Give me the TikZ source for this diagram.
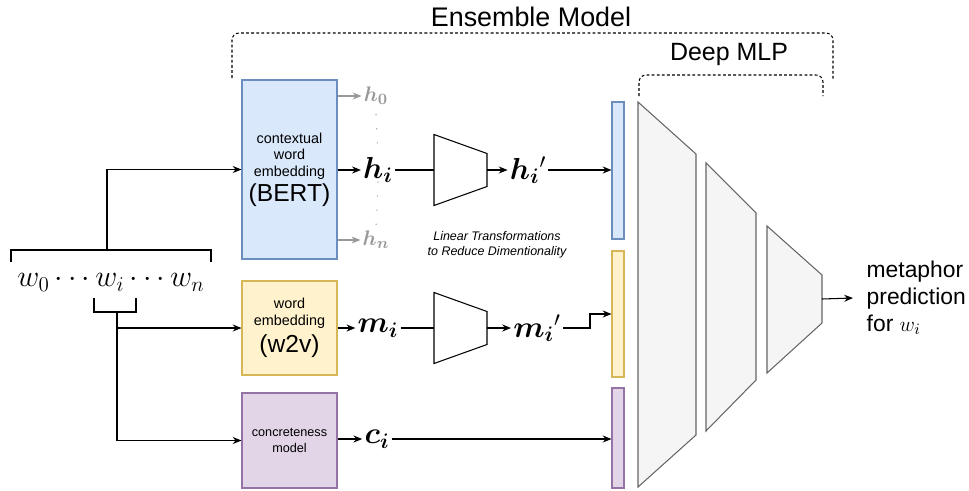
\documentclass[tikz,border=0pt]{standalone}
\usepackage{fontspec}
\setmainfont{Liberation Sans}
\usepackage{amsmath,amssymb,bm}
\usetikzlibrary{arrows.meta,positioning}
\definecolor{bertfill}{HTML}{DAE8FC}
\definecolor{bertline}{HTML}{6C8EBF}
\definecolor{wvfill}{HTML}{FFF2CC}
\definecolor{wvline}{HTML}{D6B656}
\definecolor{concfill}{HTML}{E1D5E7}
\definecolor{concline}{HTML}{9673A6}
\definecolor{mlpfill}{HTML}{F5F5F5}
\definecolor{mlpline}{HTML}{666666}
\definecolor{hgray}{HTML}{999999}
\newcommand{\smalltxt}{\fontsize{8.2}{9.4}\selectfont}
\newcommand{\bigtxt}{\fontsize{14}{15}\selectfont}

\begin{document}
\begin{tikzpicture}[x=0.02cm, y=-0.02cm, >={Stealth[length=5pt,width=4pt]},
  line width=0.6pt,
  embbox/.style={draw, align=center, minimum width=1.9cm, inner sep=0pt, font=\smalltxt},
  inbar/.style={draw, minimum width=0.24cm, inner sep=0pt},
  vec/.style={inner sep=1pt, font=\fontsize{17}{17}\selectfont},
  hvec/.style={inner sep=1pt, text=hgray, font=\fontsize{12.5}{12.5}\selectfont},
  brace/.style={dash pattern=on 1.6pt off 1.3pt, rounded corners=4pt}]
\useasboundingbox (0,0) rectangle (969,490);

% Titles and dotted braces
\node[font=\fontsize{15.3}{16}\selectfont] (ens) at (531,17) {Ensemble Model};
\node[font=\fontsize{14.2}{15}\selectfont] (deep) at (729,55) {Deep MLP};
\draw[brace] (232,78) -- (232,33) -- (833,33) -- (833,80);
\draw[brace] (639,96) -- (639,75) -- (823,75) -- (823,96);

% Input words
\node[font=\fontsize{18}{18}\selectfont] (seq) at (111,282) {$w_0\cdots w_i\cdots w_n$};
\draw (11,262) -- (11,250) -- (211,250) -- (211,262);
\draw (94,298) -- (94,312) -- (136,312) -- (136,298);
\coordinate (topbr) at (107,250);
\coordinate (botbr) at (117,312);

% Embedding boxes
\node[embbox, fill=bertfill, draw=bertline, minimum height=3.58cm] (bert) at (289.5,169.5)
  {contextual\\word\\embedding\\[1.5pt]{\bigtxt (BERT)}};
\node[embbox, fill=wvfill, draw=wvline, minimum height=1.88cm] (w2v) at (289.5,328)
  {word\\embedding\\[3pt]{\bigtxt (w2v)}};
\node[embbox, fill=concfill, draw=concline, minimum height=1.9cm,
  font=\fontsize{7.2}{9.2}\selectfont] (conc) at (289.5,440.5) {concreteness\\model};

\draw[->] (topbr) |- (bert.west);
\draw[->] (botbr |- w2v.west) -- (w2v.west);
\draw[->] (botbr) |- (conc.west);

% Outputs of the embeddings
\node[hvec] (h0) at (376,96) {$\bm{h}_{\bm{0}}$};
\node[vec] (hi) at (378,170) {$\bm{h}_{\bm{i}}$};
\node[hvec] (hn) at (376,240) {$\bm{h}_{\bm{n}}$};
\node[vec] (mi) at (378,328) {$\bm{m}_{\bm{i}}$};
\node[vec] (ci) at (377,439) {$\bm{c}_{\bm{i}}$};
\draw[->, hgray] (bert.east |- h0) -- (h0);
\draw[->, hgray] (bert.east |- hn) -- (hn);
\draw[->] (bert.east |- hi) -- (hi);
\draw[->] (w2v.east |- mi) -- (mi);
\draw[->] (conc.east |- ci) -- (ci);
\draw[hgray, dash pattern=on 0.6pt off 7.4pt] ([yshift=-4pt]h0.south) -- (hi.north);
\draw[hgray, dash pattern=on 0.6pt off 7.4pt] ([yshift=2pt]hi.south) -- (hn.north);

% Linear transformations
\foreach \yc/\nm in {170/ta, 328/tb} {
  \draw (434,\yc-35.5) -- (487,\yc-16.5) -- (487,\yc+16.5) -- (434,\yc+35.5) -- cycle;
  \coordinate (\nm in) at (434,\yc);
  \coordinate (\nm out) at (487,\yc);
}
\node[align=center, font=\fontsize{7.1}{8.5}\selectfont\itshape] (lin) at (497,245)
  {Linear Transformations\\to Reduce Dimentionality};
\node[vec] (hip) at (528,170) {$\bm{h}_{\bm{i}}{}'$};
\node[vec] (mip) at (537,328) {$\bm{m}_{\bm{i}}{}'$};
\draw (hi) -- (tain);
\draw (mi) -- (tbin);
\draw[->] (taout) -- (hip);
\draw[->] (tbout) -- (mip);

% Concatenated input bars
\node[inbar, fill=bertfill, draw=bertline, minimum height=2.74cm] (barh) at (618,170.5) {};
\node[inbar, fill=wvfill, draw=wvline, minimum height=2.52cm] (barm) at (618,314) {};
\node[inbar, fill=concfill, draw=concline, minimum height=2.0cm] (barc) at (618,438) {};
\draw[->] (hip.east) -- (hip.east -| barh.west);
\draw[->] (mip.east) -- ++(27,0) |- (barm.west);
\draw[->] (ci.east) -- (ci.east -| barc.west);

% Deep MLP layers
\foreach \xa/\xb/\ya/\yb/\yc/\yd in {638/696/102/487/154/435, 706/756/163/431/213/380, 767/822/226/373/275/323}
  \draw[fill=mlpfill, draw=mlpline] (\xa,\ya) -- (\xb,\yc) -- (\xb,\yd) -- (\xa,\yb) -- cycle;
\coordinate (mlpout) at (822,299);
\node[anchor=west, align=left, inner xsep=7.5pt, font=\fontsize{13}{15.3}\selectfont] (pred) at (853,298)
  {metaphor\\prediction\\for $w_i$};
\draw[->] (mlpout) -- (pred.west);
\end{tikzpicture}
\end{document}
